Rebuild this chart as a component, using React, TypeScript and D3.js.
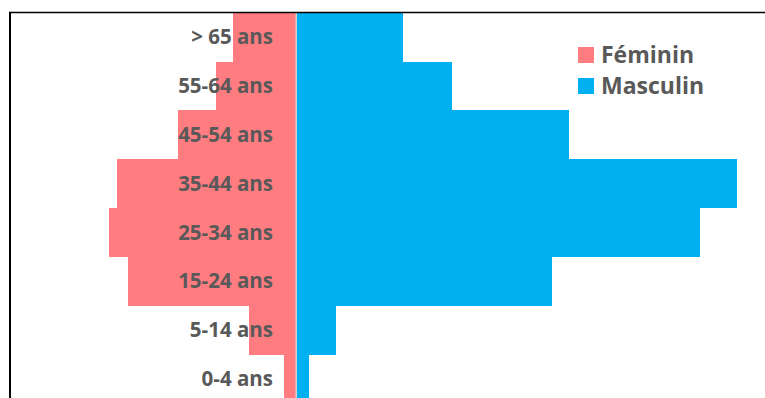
import React, { useEffect, useRef } from 'react';
import * as d3 from 'd3';

// age groups, top to bottom
const ageGroups = ['> 65 ans', '55-64 ans', '45-54 ans', '35-44 ans', '25-34 ans', '15-24 ans', '5-14 ans', '0-4 ans'];
// share of the largest bar (%)
const feminin = [14.1, 18.0, 26.6, 40.5, 42.5, 38.0, 10.5, 2.7];
const masculin = [24.1, 35.2, 61.8, 100, 91.6, 58.0, 8.9, 2.7];
const seriesNames = ['Féminin', 'Masculin'];
const seriesColors = ['#FF7C80', '#00B0F0'];

const App = () => {
  const ref = useRef<SVGSVGElement>(null);

  useEffect(() => {
    document.body.style.margin = '0';
    const width = 765;
    const height = 398;
    const center = 296;
    const top = 12.7;
    const step = 48.8;

    const svg = d3.select(ref.current);
    svg.selectAll('*').remove();
    svg.attr('width', width).attr('height', height);

    const y = d3.scaleBand()
      .domain(ageGroups)
      .range([top, top + step * ageGroups.length])
      .padding(0);

    // same px per unit on both sides
    const xLen = d3.scaleLinear().domain([0, 100]).range([0, 440]);

    const rows = ageGroups.map((g, i) => ({ g, f: feminin[i], m: masculin[i] }));

    // female bars, to the left
    svg.append('g')
      .attr('shape-rendering', 'crispEdges')
      .selectAll('rect')
      .data(rows)
      .join('rect')
      .attr('x', d => center - 0.5 - xLen(d.f))
      .attr('y', d => y(d.g)!)
      .attr('width', d => xLen(d.f))
      .attr('height', y.bandwidth() + 0.5)
      .attr('fill', seriesColors[0]);

    // male bars, to the right
    svg.append('g')
      .attr('shape-rendering', 'crispEdges')
      .selectAll('rect')
      .data(rows)
      .join('rect')
      .attr('x', center + 1)
      .attr('y', d => y(d.g)!)
      .attr('width', d => xLen(d.m))
      .attr('height', y.bandwidth() + 0.5)
      .attr('fill', seriesColors[1]);

    // centre axis line
    svg.append('line')
      .attr('x1', center + 0.25).attr('x2', center + 0.25)
      .attr('y1', top).attr('y2', height)
      .attr('stroke', '#d4d4d4')
      .attr('stroke-width', 1.5);

    // category labels
    svg.append('g')
      .selectAll('text')
      .data(ageGroups)
      .join('text')
      .attr('x', 273)
      .attr('y', d => y(d)! + y.bandwidth() / 2 + 7.2)
      .attr('text-anchor', 'end')
      .attr('fill', '#595959')
      .style('font-family', '"Open Sans", sans-serif')
      .style('font-weight', 700)
      .style('font-size', '20.5px')
      .text(d => d);

    // frame
    svg.append('line')
      .attr('x1', 9).attr('x2', width)
      .attr('y1', 12.5).attr('y2', 12.5)
      .attr('stroke', '#000').attr('stroke-width', 1.5);
    svg.append('line')
      .attr('x1', 10).attr('x2', 10)
      .attr('y1', 12).attr('y2', height)
      .attr('stroke', '#000').attr('stroke-width', 2);

    // legend
    const legend = svg.append('g');
    seriesNames.forEach((name, i) => {
      const ly = 47 + i * 31;
      legend.append('rect')
        .attr('x', 578).attr('y', ly)
        .attr('width', 16).attr('height', 16)
        .attr('fill', seriesColors[i]);
      legend.append('text')
        .attr('x', 601)
        .attr('y', ly + 15.5)
        .attr('fill', '#595959')
        .style('font-family', '"Open Sans", sans-serif')
        .style('font-weight', 700)
        .style('font-size', '23px')
        .text(name);
    });
  }, []);

  return <svg ref={ref} style={{ position: 'absolute', left: 0, top: 0 }}></svg>;
};

export default App;
